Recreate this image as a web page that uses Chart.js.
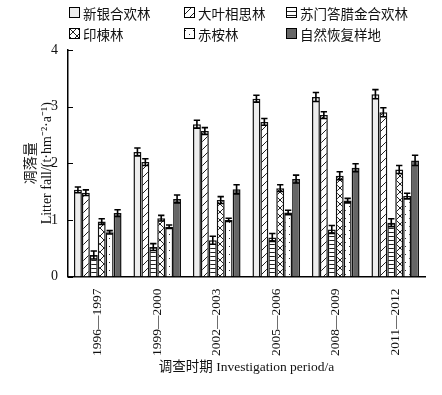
<!DOCTYPE html>
<html lang="zh">
<head>
<meta charset="UTF-8" />
<title>凋落量</title>
<script src="https://cdn.jsdelivr.net/npm/chart.js"></script>
<style>
  body { margin: 0; background: #fff; }
  #wrap { position: relative; width: 442px; height: 395px; }
  #legend {
    position: absolute; left: 69px; top: 5px;
    display: grid; grid-template-columns: 115px 102px 140px; row-gap: 6px;
    font-family: 'Noto Sans CJK SC', sans-serif; font-size: 13.5px; color: #111;
  }
  #legend div { display: flex; align-items: center; height: 15px; }
  #legend canvas { margin-right: 3px; }
</style>
</head>
<body>
<div id="wrap">
  <canvas id="litterChart" width="442" height="395"></canvas>
  <div id="legend"></div>
</div>
<script>
const periods = ['1996—1997', '1999—2000', '2002—2003', '2005—2006', '2008—2009', '2011—2012'];
const names = ['新银合欢林', '大叶相思林', '苏门答腊金合欢林', '印楝林', '赤桉林', '自然恢复样地'];

// t·hm-2·a-1
const xinYin  = [1.53, 2.20, 2.69, 3.14, 3.17, 3.22];
const daYe    = [1.48, 2.02, 2.57, 2.73, 2.85, 2.90];
const suMen   = [0.38, 0.52, 0.64, 0.69, 0.83, 0.95];
const yinLian = [0.97, 1.03, 1.35, 1.56, 1.78, 1.89];
const chiAn   = [0.78, 0.88, 1.00, 1.13, 1.34, 1.42];
const ziRan   = [1.12, 1.37, 1.54, 1.72, 1.92, 2.05];

const xinYinErr  = [0.05, 0.07, 0.07, 0.06, 0.08, 0.08];
const daYeErr    = [0.05, 0.06, 0.06, 0.06, 0.06, 0.08];
const suMenErr   = [0.07, 0.06, 0.07, 0.07, 0.07, 0.07];
const yinLianErr = [0.05, 0.05, 0.06, 0.06, 0.07, 0.07];
const chiAnErr   = [0.03, 0.03, 0.03, 0.04, 0.04, 0.05];
const ziRanErr   = [0.06, 0.07, 0.08, 0.07, 0.07, 0.09];

const serif = "'Liberation Serif', 'Noto Sans CJK SC', serif";

function makePattern(kind) {
  const c = document.createElement('canvas');
  const s = kind === 'hline' ? 4 : 8;
  c.width = s; c.height = s;
  const g = c.getContext('2d');
  g.fillStyle = '#fff';
  g.fillRect(0, 0, s, s);
  g.strokeStyle = '#222';
  g.lineWidth = 1;
  if (kind === 'diag') {
    g.beginPath(); g.moveTo(0, s); g.lineTo(s, 0);
    g.moveTo(-1, 1); g.lineTo(1, -1);
    g.moveTo(s - 1, s + 1); g.lineTo(s + 1, s - 1); g.stroke();
  } else if (kind === 'hline') {
    g.beginPath(); g.moveTo(0, 0.5); g.lineTo(s, 0.5); g.stroke();
  } else if (kind === 'cross') {
    g.beginPath(); g.moveTo(0, s); g.lineTo(s, 0); g.moveTo(0, 0); g.lineTo(s, s); g.stroke();
  } else if (kind === 'dots') {
    g.fillStyle = '#333';
    g.fillRect(1, 2, 1, 1);
    g.fillRect(5, 6, 1, 1);
  }
  return g.createPattern(c, 'repeat');
}

const fills = ['#ededed', makePattern('diag'), makePattern('hline'), makePattern('cross'), makePattern('dots'), '#666'];
const values = [xinYin, daYe, suMen, yinLian, chiAn, ziRan];
const errors = [xinYinErr, daYeErr, suMenErr, yinLianErr, chiAnErr, ziRanErr];

// legend
const legend = document.getElementById('legend');
names.forEach((n, i) => {
  const item = document.createElement('div');
  const box = document.createElement('canvas');
  box.width = 11; box.height = 11;
  const g = box.getContext('2d');
  g.fillStyle = fills[i];
  g.fillRect(0, 0, 11, 11);
  g.strokeStyle = '#000';
  g.lineWidth = 1;
  g.strokeRect(0.5, 0.5, 10, 10);
  item.appendChild(box);
  item.appendChild(document.createTextNode(n));
  legend.appendChild(item);
});

const errorBars = {
  id: 'errorBars',
  afterDatasetsDraw(chart) {
    const ctx = chart.ctx;
    const y = chart.scales.y;
    ctx.save();
    ctx.strokeStyle = '#000';
    ctx.lineWidth = 1.6;
    chart.data.datasets.forEach((ds, i) => {
      chart.getDatasetMeta(i).data.forEach((bar, j) => {
        const v = ds.data[j], e = ds.errors[j];
        const top = y.getPixelForValue(v + e);
        const bot = y.getPixelForValue(v - e);
        const half = bar.width * 0.4;
        ctx.beginPath();
        ctx.moveTo(bar.x, top); ctx.lineTo(bar.x, bot);
        ctx.moveTo(bar.x - half, top); ctx.lineTo(bar.x + half, top);
        ctx.moveTo(bar.x - half, bot); ctx.lineTo(bar.x + half, bot);
        ctx.stroke();
      });
    });
    // inward y ticks
    const area = chart.chartArea;
    ctx.lineWidth = 1;
    y.ticks.forEach(t => {
      const py = Math.round(y.getPixelForValue(t.value)) + 0.5;
      ctx.beginPath();
      ctx.moveTo(area.left, py); ctx.lineTo(area.left + 5, py);
      ctx.stroke();
    });
    ctx.restore();
  }
};

new Chart(document.getElementById('litterChart'), {
  type: 'bar',
  data: {
    labels: periods,
    datasets: names.map((n, i) => ({
      label: n,
      data: values[i],
      errors: errors[i],
      backgroundColor: fills[i],
      borderColor: '#111',
      borderWidth: 1.5,
      categoryPercentage: 0.8,
      barPercentage: 1.0
    }))
  },
  options: {
    responsive: false,
    animation: false,
    layout: { padding: { top: 50, right: 17, left: 0, bottom: 0 } },
    plugins: { legend: { display: false }, tooltip: { enabled: false } },
    scales: {
      x: {
        afterFit(scale) { scale.height = 118.5; },
        grid: { display: false },
        border: { display: true, color: '#000', width: 1.5 },
        ticks: {
          minRotation: 90, maxRotation: 90, padding: 4,
          color: '#111', font: { family: serif, size: 13.5 }
        },
        title: {
          display: true,
          text: '调查时期 Investigation period/a',
          color: '#111',
          font: { family: serif, size: 13.5 },
          padding: { top: 0, bottom: 19 }
        }
      },
      y: {
        min: 0, max: 4,
        afterFit(scale) { scale.width = 68; },
        grid: { display: false, drawTicks: false },
        border: { display: true, color: '#000', width: 1.5 },
        ticks: {
          stepSize: 1, padding: 10,
          color: '#111', font: { family: serif, size: 14 }
        },
        title: {
          display: true,
          text: ['凋落量', 'Litter fall/(t·hm⁻²·a⁻¹)'],
          color: '#111',
          font: { family: serif, size: 14, lineHeight: 1.1 },
          padding: { top: 24, bottom: 0 }
        }
      }
    }
  },
  plugins: [errorBars]
});
</script>
</body>
</html>
